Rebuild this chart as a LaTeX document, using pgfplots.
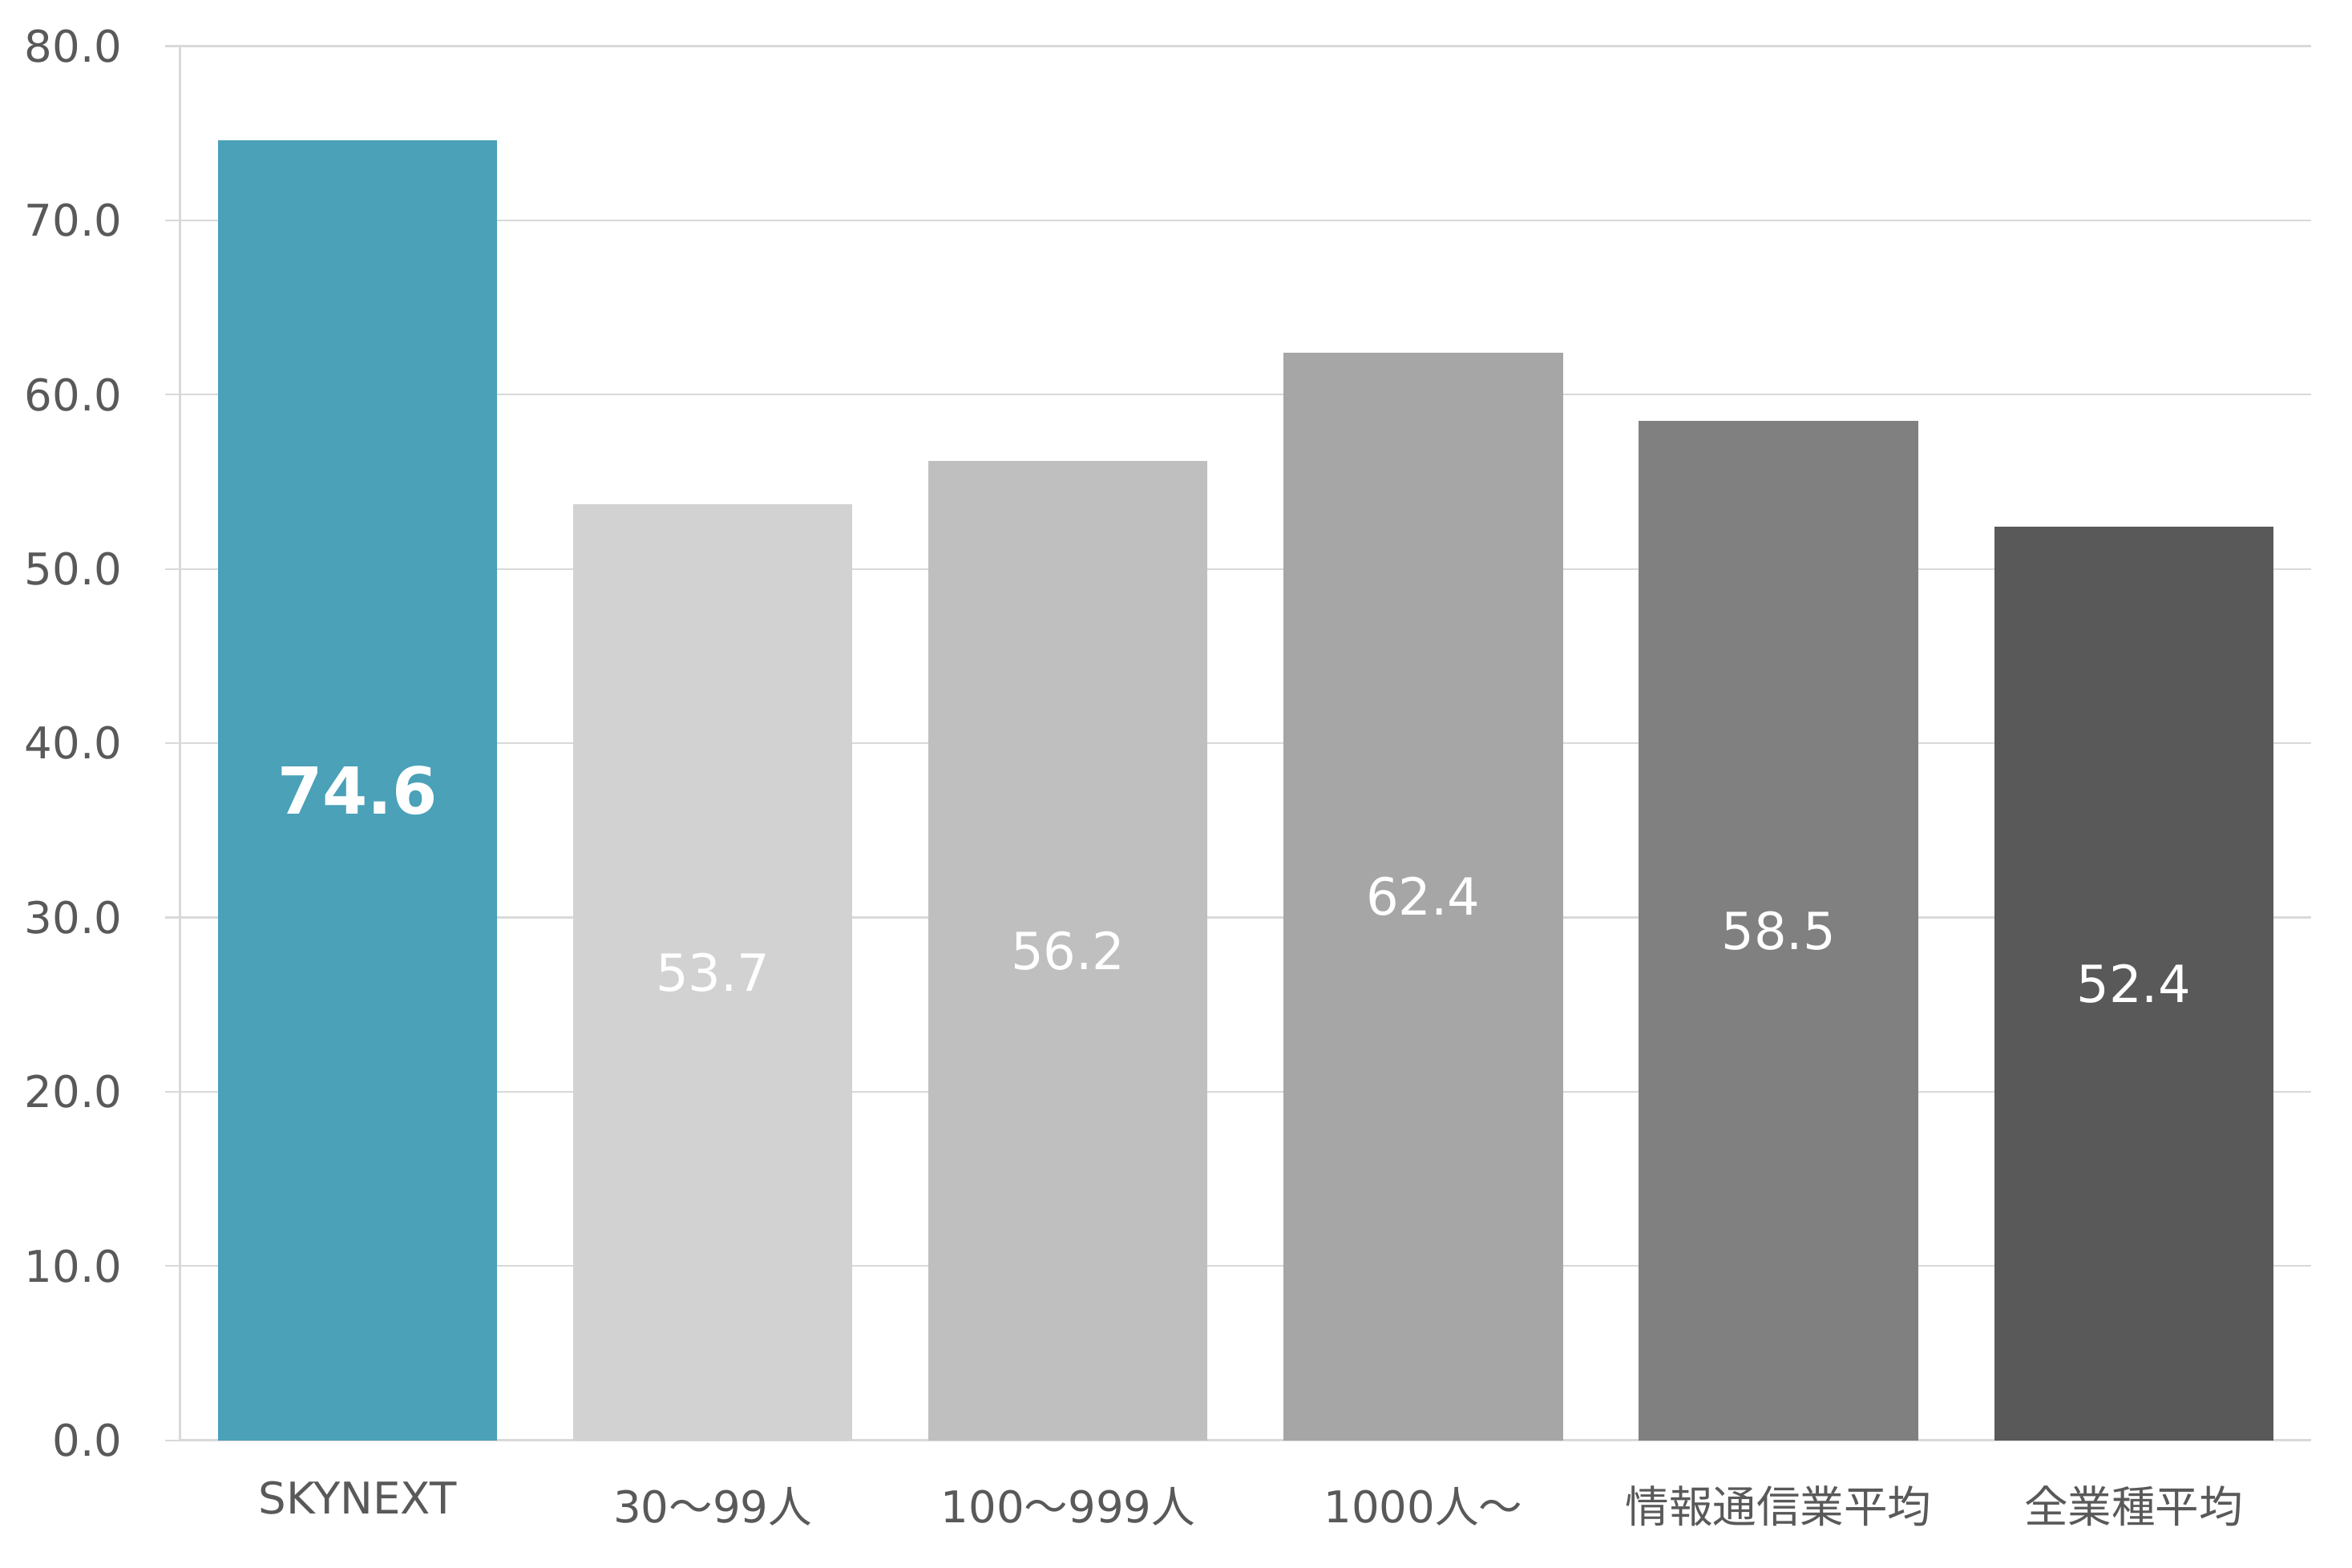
\documentclass[border=0pt]{standalone}
\usepackage{pgfplots}
\pgfplotsset{compat=1.18}
\usepackage{pgfplotstable}
\usepackage{fontspec}
\setmainfont{DejaVu Sans}
\newfontfamily\cjk{Noto Sans CJK JP}
\definecolor{txt}{HTML}{595959}
\definecolor{gridc}{HTML}{D9D9D9}
\definecolor{c0}{HTML}{4AA1B8}
\definecolor{c1}{HTML}{D2D2D2}
\definecolor{c2}{HTML}{BFBFBF}
\definecolor{c3}{HTML}{A6A6A6}
\definecolor{c4}{HTML}{808080}
\definecolor{c5}{HTML}{595959}
\pgfplotstableread{
x y
0 74.6
1 53.7
2 56.2
3 62.4
4 58.5
5 52.4
}\data
\begin{document}
\begin{tikzpicture}
\useasboundingbox (-59.7pt,-42.35pt) rectangle (720.3pt,477.65pt);
\begin{axis}[
  at={(0,0)}, anchor=south west,
  scale only axis, width=706.8pt, height=462.4pt,
  xmin=-0.5, xmax=5.5, ymin=0, ymax=80,
  axis x line*=bottom, axis y line*=left,
  axis line style={draw=gridc, line width=0.6pt},
  x axis line style={line width=0.75pt},
  ymajorgrids, grid style={draw=gridc, line width=0.6pt},
  ytick={0,10,...,80},
  tick align=outside, major tick length=5pt,
  ytick style={draw=gridc, line width=0.6pt},
  xtick={0,1,2,3,4,5},
  xtick style={draw=none},
  xticklabels={\raisebox{3pt}{SKYNEXT}, 30{\cjk 〜}99{\cjk 人}, 100{\cjk 〜}999{\cjk 人}, 1000{\cjk 人〜}, {\cjk 情報通信業平均}, {\cjk 全業種平均}},
  /pgf/number format/assume math mode=true,
  ticklabel style={font=\fontsize{14.5}{17}\selectfont, text=txt},
  yticklabel={\pgfmathprintnumber[fixed, fixed zerofill, precision=1]{\tick}},
  yticklabel style={anchor=east, inner sep=0pt, xshift=-14pt},
  xticklabel style={anchor=base, inner sep=0pt, yshift=-22.3pt},
  clip=false,
]
\addplot[ybar, bar width=0.786, bar shift=0pt, fill=c0, draw=none] coordinates {(0,74.6)};
\addplot[ybar, bar width=0.786, bar shift=0pt, fill=c1, draw=none] coordinates {(1,53.7)};
\addplot[ybar, bar width=0.786, bar shift=0pt, fill=c2, draw=none] coordinates {(2,56.2)};
\addplot[ybar, bar width=0.786, bar shift=0pt, fill=c3, draw=none] coordinates {(3,62.4)};
\addplot[ybar, bar width=0.786, bar shift=0pt, fill=c4, draw=none] coordinates {(4,58.5)};
\addplot[ybar, bar width=0.786, bar shift=0pt, fill=c5, draw=none] coordinates {(5,52.4)};
\addplot[draw=none, mark=none, point meta=explicit,
  restrict expr to domain={\coordindex}{0:0},
  nodes near coords={\pgfmathprintnumber[fixed, fixed zerofill, precision=1]{\pgfplotspointmeta}},
  every node near coord/.append style={anchor=center, inner sep=0pt, text=white, font=\bfseries\fontsize{21.5}{24}\selectfont}]
  table[x=x, y expr=\thisrow{y}/2, meta=y]{\data};
\addplot[draw=none, mark=none, point meta=explicit,
  restrict expr to domain={\coordindex}{1:5},
  nodes near coords={\pgfmathprintnumber[fixed, fixed zerofill, precision=1]{\pgfplotspointmeta}},
  every node near coord/.append style={anchor=center, inner sep=0pt, text=white, font=\fontsize{17}{20}\selectfont}]
  table[x=x, y expr=\thisrow{y}/2, meta=y]{\data};
\end{axis}
\end{tikzpicture}
\end{document}
